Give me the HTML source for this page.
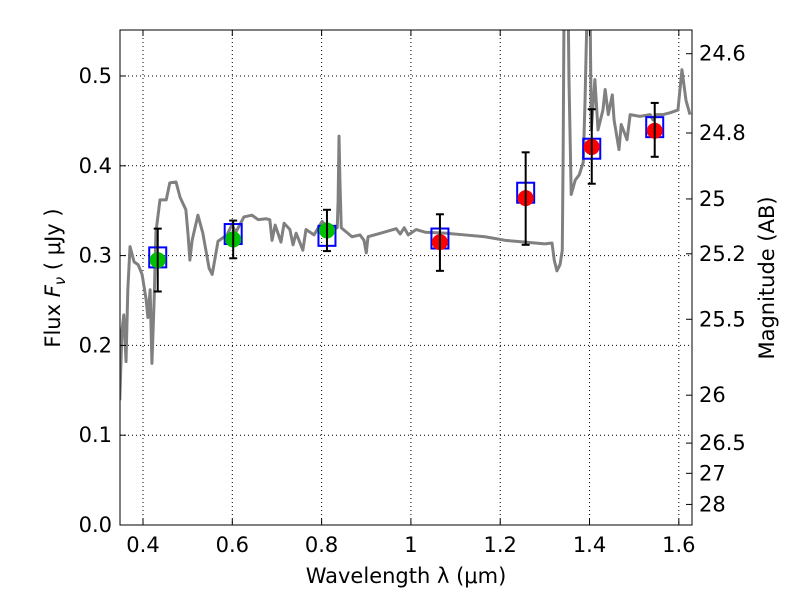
<!DOCTYPE html>
<html><head><meta charset="utf-8"><style>
body{margin:0;background:#fff;}
svg{display:block;font-family:"DejaVu Sans","Liberation Sans",sans-serif;}
</style></head><body>
<svg id="chart" width="800" height="600"></svg>
<script>
const specW=[0.348,0.353,0.357,0.362,0.366,0.371,0.380,0.389,0.398,0.407,0.411,0.416,0.420,0.425,0.429,0.438,0.452,0.460,0.474,0.483,0.496,0.501,0.505,0.510,0.523,0.534,0.548,0.555,0.568,0.588,0.599,0.608,0.626,0.644,0.658,0.676,0.684,0.689,0.696,0.709,0.716,0.729,0.736,0.743,0.758,0.765,0.783,0.801,0.819,0.835,0.837,0.839,0.841,0.844,0.868,0.886,0.895,0.900,0.904,0.940,0.967,0.976,0.985,0.994,1.012,1.032,1.076,1.121,1.166,1.211,1.256,1.300,1.316,1.321,1.327,1.334,1.339,1.341,1.343,1.352,1.354,1.359,1.368,1.377,1.386,1.390,1.395,1.401,1.404,1.412,1.419,1.430,1.435,1.442,1.451,1.455,1.466,1.471,1.484,1.491,1.513,1.536,1.542,1.549,1.565,1.580,1.598,1.607,1.616,1.625];
const specF=[0.139,0.217,0.234,0.182,0.262,0.310,0.293,0.290,0.279,0.251,0.231,0.262,0.180,0.251,0.326,0.362,0.362,0.381,0.382,0.365,0.351,0.323,0.295,0.317,0.345,0.325,0.286,0.279,0.316,0.323,0.334,0.326,0.343,0.345,0.340,0.341,0.340,0.317,0.334,0.315,0.336,0.329,0.312,0.325,0.306,0.329,0.323,0.338,0.329,0.331,0.362,0.433,0.384,0.331,0.321,0.323,0.317,0.303,0.321,0.326,0.330,0.324,0.331,0.323,0.329,0.326,0.325,0.323,0.321,0.317,0.315,0.313,0.314,0.295,0.283,0.290,0.306,0.418,0.585,0.585,0.496,0.368,0.384,0.390,0.404,0.473,0.585,0.585,0.440,0.496,0.440,0.462,0.485,0.457,0.479,0.451,0.418,0.446,0.429,0.457,0.455,0.457,0.451,0.457,0.457,0.459,0.462,0.507,0.473,0.457];
const ptW=[0.433,0.602,0.812,1.065,1.257,1.405,1.546];
const ptF=[0.295,0.318,0.328,0.315,0.364,0.421,0.439];
const ptLo=[0.260,0.297,0.305,0.283,0.312,0.380,0.410];
const ptHi=[0.330,0.339,0.351,0.346,0.415,0.463,0.470];
const boxF=[0.298,0.324,0.322,0.319,0.370,0.419,0.443];
const ptColor=['#00c000','#00c000','#00c000','#ff0000','#ff0000','#ff0000','#ff0000'];
const xTicks=[0.4,0.6,0.8,1.0,1.2,1.4,1.6];
const xLabels=['0.4','0.6','0.8','1','1.2','1.4','1.6'];
const yTicks=[0,0.1,0.2,0.3,0.4,0.5];
const yLabels=['0.0','0.1','0.2','0.3','0.4','0.5'];
const magTicks=[24.6,24.8,25,25.2,25.5,26,26.5,27,28];
const magLabels=['24.6','24.8','25','25.2','25.5','26','26.5','27','28'];

const L=120,R=692,T=30,B=525,x0=0.3485,x1=1.6295,y0=0,y1=0.5512;
const sx=w=>L+(w-x0)/(x1-x0)*(R-L);
const sy=f=>B-(f-y0)/(y1-y0)*(B-T);
const svg=document.getElementById('chart');
const NS='http://www.w3.org/2000/svg';
function mk(tag,attrs,parent){const e=document.createElementNS(NS,tag);for(const k in attrs)e.setAttribute(k,attrs[k]);(parent||svg).appendChild(e);return e;}

const defs=mk('defs',{});const cp=mk('clipPath',{id:'clip'},defs);mk('rect',{x:L,y:T,width:R-L,height:B-T},cp);

xTicks.forEach((t,i)=>{const g=mk('line',{x1:sx(t),x2:sx(t),y1:T,y2:B,stroke:'#000','stroke-width':1,'stroke-dasharray':'1,3'});

});
yTicks.forEach((t,i)=>{const g=mk('line',{x1:L,x2:R,y1:sy(t),y2:sy(t),stroke:'#000','stroke-width':1,'stroke-dasharray':'1,3'});

});

const sp=mk('polyline',{points:specW.map((w,i)=>sx(w)+','+sy(specF[i])).join(' '),fill:'none',stroke:'#808080','stroke-width':3,'clip-path':'url(#clip)','stroke-linejoin':'round'});



ptW.forEach((w,i)=>{const b=mk('rect',{x:sx(w)-8.5,y:sy(boxF[i])-10,width:17,height:20,fill:'none',stroke:'#0000ff','stroke-width':2});

});
ptW.forEach((w,i)=>{const c=mk('circle',{cx:sx(w),cy:sy(ptF[i]),r:8,fill:ptColor[i]});

});
ptW.forEach((w,i)=>{const g=mk('g',{stroke:'#000','stroke-width':2});


const x=sx(w);mk('line',{x1:x,x2:x,y1:sy(ptLo[i]),y2:sy(ptHi[i])},g);
mk('line',{x1:x-4,x2:x+4,y1:sy(ptLo[i]),y2:sy(ptLo[i])},g);
mk('line',{x1:x-4,x2:x+4,y1:sy(ptHi[i]),y2:sy(ptHi[i])},g);});

const fr=mk('rect',{x:L,y:T,width:R-L,height:B-T,fill:'none',stroke:'#000','stroke-width':1});



xTicks.forEach((t,i)=>{mk('line',{x1:sx(t),x2:sx(t),y1:B,y2:B-6,stroke:'#000'});mk('line',{x1:sx(t),x2:sx(t),y1:T,y2:T+6,stroke:'#000'});
const tx=mk('text',{x:sx(t),y:B+27,'font-size':21,'text-anchor':'middle'});tx.textContent=xLabels[i];

});
yTicks.forEach((t,i)=>{mk('line',{x1:L,x2:L+6,y1:sy(t),y2:sy(t),stroke:'#000'});
const tx=mk('text',{x:L-8,y:sy(t)+7,'font-size':21,'text-anchor':'end'});tx.textContent=yLabels[i];

});
magTicks.forEach((m,i)=>{const f=Math.pow(10,(23.9-m)/2.5);const y=sy(f);
mk('line',{x1:R,x2:R-6,y1:y,y2:y,stroke:'#000'});
const tx=mk('text',{x:R+7,y:y+7,'font-size':21,'text-anchor':'start'});tx.textContent=magLabels[i];

});

const xt=mk('text',{x:406,y:583,'font-size':21,'text-anchor':'middle'});xt.textContent='Wavelength  λ (μm)';


const yt=mk('text',{x:60,y:278,'font-size':21,'text-anchor':'middle',transform:'rotate(-90 60 278)'});yt.innerHTML='Flux  <tspan font-style="italic">F</tspan><tspan font-style="italic" font-size="15" dy="5">ν</tspan><tspan dy="-5">  ( μJy )</tspan>';


const rt=mk('text',{x:774,y:278,'font-size':21,'text-anchor':'middle',transform:'rotate(-90 774 278)'});rt.textContent='Magnitude (AB)';


</script>
</body></html>
